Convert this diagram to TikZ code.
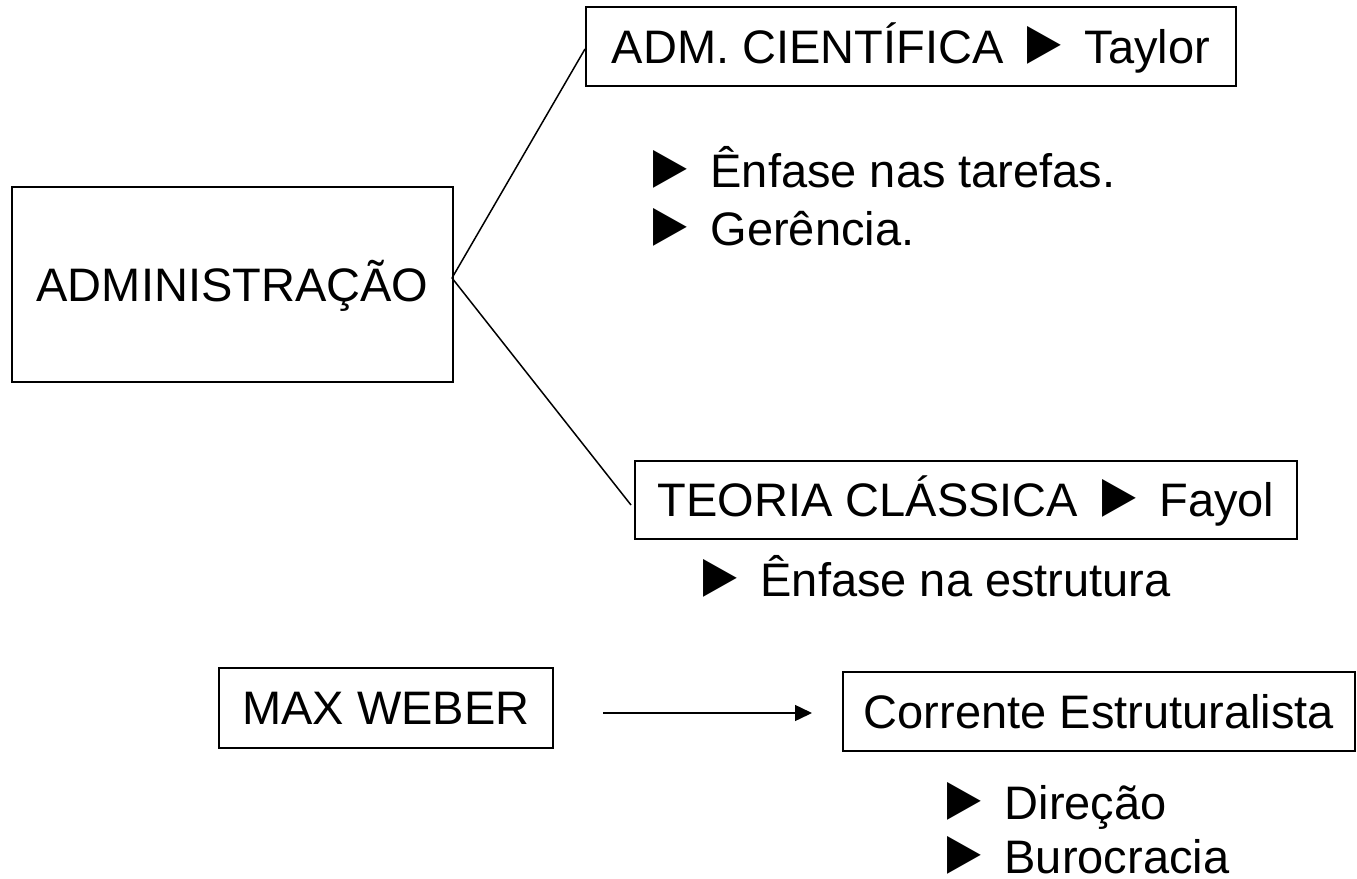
\documentclass[tikz,border=0pt]{standalone}
\usepackage{fontspec}
\setmainfont{Liberation Sans}
\newcommand\tri{\makebox[0.94em][l]{\hspace{-0.23em}\smash{\scalebox{1.2}[1.35]{►}}}}
\newcommand\trib{\hspace{0.23em}\tri}
\usetikzlibrary{arrows.meta,calc}
\begin{document}
\begin{tikzpicture}[x=0.5pt,y=-0.5pt,
  box/.style={draw, line width=1pt, inner sep=0pt, text height=16.8pt, text depth=0pt, font=\fontsize{23.5}{28}\selectfont},
  txt/.style={inner sep=0pt, anchor=base west, font=\fontsize{23.5}{28}\selectfont},
  conn/.style={line width=0.75pt}]
\useasboundingbox (0,0) rectangle (1357,879);
\node[box, minimum width=220.5pt, minimum height=97.5pt] (adm) at (232.5,284.5) {ADMINISTRAÇÃO};
\node[box, minimum width=325pt, minimum height=39.5pt] (cient) at (911,46.5) {ADM. CIENTÍFICA \trib{} Taylor};
\node[box, minimum width=331pt, minimum height=39pt] (teo) at (966,500) {TEORIA CLÁSSICA \trib{} Fayol};
\node[box, minimum width=167pt, minimum height=40pt] (weber) at (386,708) {MAX WEBER};
\node[box, minimum width=256pt, minimum height=39.5pt] (corr) at (1099,711.5) {Corrente Estruturalista};
\node[txt] (t1) at (653,187) {\tri{} Ênfase nas tarefas.};
\node[txt] (t2) at (653,245) {\tri{} Gerência.};
\node[txt] (t3) at (703,596) {\tri{} Ênfase na estrutura};
\node[txt] (t4) at (947,819) {\tri{} Direção};
\node[txt] (t5) at (947,873) {\tri{} Burocracia};
\coordinate (j) at ($(adm.east)+(-2,-6.5)$);
\draw[conn] (j) -- ($(cient.west)+(0,2.5)$);
\draw[conn] (j) -- ($(teo.west)+(-3,5)$);
\draw[conn, -{Triangle[length=8.5pt,width=8pt]}] ($(weber.east)+(49,5)$) -- ($(corr.west)+(-30,1.5)$);
\end{tikzpicture}
\end{document}
